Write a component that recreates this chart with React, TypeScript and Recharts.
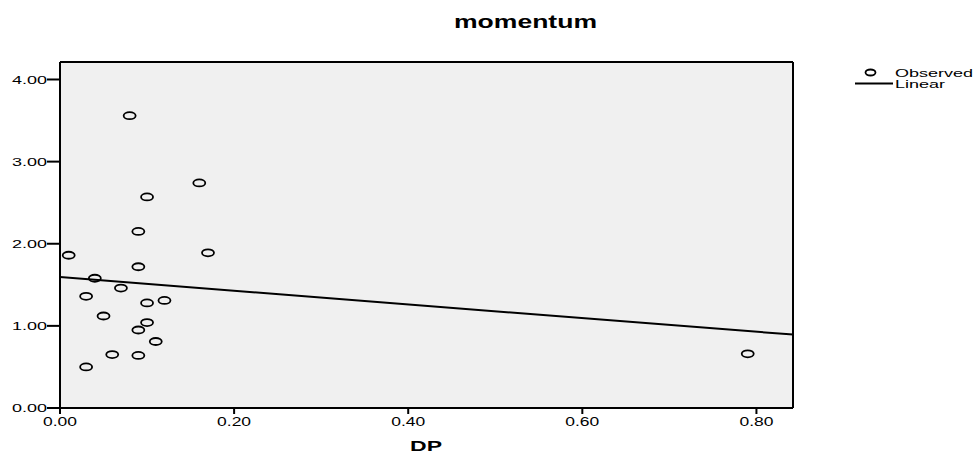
import React from 'react';
import {
  ScatterChart,
  Scatter,
  XAxis,
  YAxis,
  CartesianGrid,
  ReferenceLine,
} from 'recharts';

// DP vs momentum, observed cases
const dpValues = [0.08, 0.1, 0.16, 0.09, 0.01, 0.17, 0.09, 0.04, 0.07, 0.03, 0.1, 0.12, 0.05, 0.1, 0.09, 0.11, 0.06, 0.09, 0.03, 0.79];
const momentumValues = [3.56, 2.57, 2.74, 2.15, 1.86, 1.89, 1.72, 1.58, 1.46, 1.36, 1.28, 1.31, 1.12, 1.04, 0.95, 0.81, 0.65, 0.64, 0.5, 0.66];

// fitted linear line, read at the two ends of the plot
const linearX = [0, 0.842];
const linearY = [1.594, 0.894];

const xTicks = [0, 0.2, 0.4, 0.6, 0.8];
const yTicks = [0, 1, 2, 3, 4];

const observed = dpValues.map((x, i) => ({ x, y: momentumValues[i] }));
const linear = linearX.map((x, i) => ({ x, y: linearY[i] }));

const FONT = '"Liberation Sans", Arial, sans-serif';

const Ring = (props: any) => (
  <ellipse cx={props.cx} cy={props.cy} rx={6} ry={3.5} fill="none" stroke="#000" strokeWidth={1.8} />
);

const YTick = (props: any) => (
  <text
    x={props.x}
    y={props.y}
    dy="0.38em"
    textAnchor="end"
    fontFamily={FONT}
    fontSize={11.5}
    fill="#000"
    textLength={35}
    lengthAdjust="spacingAndGlyphs"
  >
    {Number(props.payload.value).toFixed(2)}
  </text>
);

const XTick = (props: any) => (
  <text
    x={props.x}
    y={props.y}
    dy="0.71em"
    textAnchor="middle"
    fontFamily={FONT}
    fontSize={12}
    fill="#000"
    textLength={34}
    lengthAdjust="spacingAndGlyphs"
  >
    {Number(props.payload.value).toFixed(2)}
  </text>
);

const DpLabel = (props: any) => {
  const vb = props.viewBox || { x: 60, y: 408, width: 733 };
  return (
    <text
      x={vb.x + vb.width / 2 - 0.5}
      y={450.5}
      textAnchor="middle"
      fontFamily={FONT}
      fontWeight="bold"
      fontSize={14}
      fill="#000"
      textLength={32}
      lengthAdjust="spacingAndGlyphs"
    >
      DP
    </text>
  );
};

export default function App() {
  return (
    <div style={{ position: 'absolute', left: 0, top: 0, width: 977, height: 452, background: '#fff' }}>
      <ScatterChart width={977} height={452} margin={{ top: 62, right: 184, bottom: 0, left: 0 }}>
        <CartesianGrid fill="#f0f0f0" horizontal={false} vertical={false} />
        <XAxis
          type="number"
          dataKey="x"
          domain={[0, 0.842]}
          ticks={xTicks}
          allowDataOverflow
          height={44}
          tickSize={6}
          tickMargin={3}
          axisLine={{ stroke: '#000', strokeWidth: 2 }}
          tickLine={{ stroke: '#000', strokeWidth: 2 }}
          tick={<XTick />}
          label={<DpLabel />}
        />
        <YAxis
          type="number"
          dataKey="y"
          domain={[0, 4.213]}
          ticks={yTicks}
          allowDataOverflow
          width={60}
          tickSize={13}
          tickMargin={0}
          axisLine={{ stroke: '#000', strokeWidth: 2 }}
          tickLine={{ stroke: '#000', strokeWidth: 2 }}
          tick={<YTick />}
        />
        <ReferenceLine y={4.213} stroke="#000" strokeWidth={2} />
        <ReferenceLine x={0.842} stroke="#000" strokeWidth={2} />
        <Scatter
          name="Linear"
          data={linear}
          line={{ stroke: '#000', strokeWidth: 2 }}
          shape={() => <g />}
          isAnimationActive={false}
        />
        <Scatter name="Observed" data={observed} shape={<Ring />} isAnimationActive={false} />
      </ScatterChart>
      <svg width={977} height={452} style={{ position: 'absolute', left: 0, top: 0, pointerEvents: 'none' }}>
        <text
          x={525.5}
          y={28}
          textAnchor="middle"
          fontFamily={FONT}
          fontWeight="bold"
          fontSize={19}
          fill="#000"
          textLength={143}
          lengthAdjust="spacingAndGlyphs"
        >
          momentum
        </text>
        <ellipse cx={870.5} cy={72.5} rx={5} ry={3} fill="none" stroke="#000" strokeWidth={1.8} />
        <text x={895} y={76.5} fontFamily={FONT} fontSize={11.5} textLength={78} lengthAdjust="spacingAndGlyphs">
          Observed
        </text>
        <line x1={855} y1={83.5} x2={893} y2={83.5} stroke="#000" strokeWidth={2} />
        <text x={895} y={88} fontFamily={FONT} fontSize={11.5} textLength={50} lengthAdjust="spacingAndGlyphs">
          Linear
        </text>
      </svg>
    </div>
  );
}
